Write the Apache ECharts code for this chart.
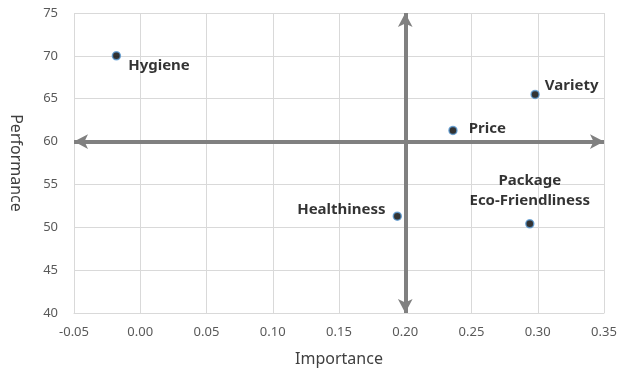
<!DOCTYPE html>
<html><head><meta charset="utf-8">
<script src="https://cdn.jsdelivr.net/npm/echarts@6/dist/echarts.min.js"></script>
<style>html,body{margin:0;padding:0;background:#fff}#c{width:624px;height:372px}</style>
</head><body><div id="c"></div>
<script>
var names = ["Hygiene","Variety","Price","Healthiness","Package\nEco-Friendliness"];
var importance = [-0.018, 0.298, 0.236, 0.194, 0.294];
var performance = [70.0, 65.5, 61.3, 51.3, 50.4];
var xTicks = [-0.05, 0.35, 0.05];
var yTicks = [40, 75, 5];
var centerX = 0.20, centerY = 60;

var labelCfg = [
  {position:'right', align:'left', offset:[2,10]},
  {position:'right', align:'left', offset:[0,-9]},
  {position:'right', align:'left', offset:[6,-2]},
  {position:'left', align:'right', offset:[-2,-6]},
  {position:'top', align:'center', offset:[0,-3]}
];
var data = names.map(function(n,i){
  return {name:n, value:[importance[i], performance[i]], label:labelCfg[i]};
});
var chart = echarts.init(document.getElementById('c'));
chart.setOption({
  animation:false,
  grid:{left:73, right:20, top:13, bottom:59},
  xAxis:{type:'value', min:xTicks[0], max:xTicks[1], interval:xTicks[2],
    name:'Importance', nameLocation:'middle', nameGap:38,
    nameTextStyle:{fontSize:16, color:'#404040', fontFamily:'Noto Sans'},
    axisLine:{show:true, onZero:false, lineStyle:{color:'#d9d9d9'}}, axisTick:{show:false},
    axisLabel:{color:'#595959', fontSize:13, margin:13, fontFamily:'Noto Sans', formatter:function(v){return v.toFixed(2);}},
    splitLine:{lineStyle:{color:'#d9d9d9'}}},
  yAxis:{type:'value', min:yTicks[0], max:yTicks[1], interval:yTicks[2],
    name:'Performance', nameLocation:'middle', nameGap:50, nameRotate:-90,
    nameTextStyle:{fontSize:16, color:'#404040', fontFamily:'Noto Sans'},
    axisLine:{show:false}, axisTick:{show:false},
    axisLabel:{color:'#595959', fontSize:13, margin:16, fontFamily:'Noto Sans'},
    splitLine:{lineStyle:{color:'#d9d9d9'}}},
  series:[{
    type:'scatter', data:data, symbolSize:8,
    itemStyle:{color:'#000', borderColor:'#5b9bd5', borderWidth:1.5},
    label:{show:true, formatter:'{b}', fontWeight:'bold', fontSize:15, color:'#000', fontFamily:'Noto Sans', lineHeight:20},
    markLine:{silent:true, symbol:['arrow','arrow'], symbolSize:[11,14],
      lineStyle:{color:'#808080', width:4, type:'solid'}, label:{show:false},
      data:[
        [{coord:[xTicks[0], centerY]},{coord:[xTicks[1], centerY]}],
        [{coord:[centerX, yTicks[0]]},{coord:[centerX, yTicks[1]]}]
      ]},
    z:3
  }]
});
</script></body></html>
